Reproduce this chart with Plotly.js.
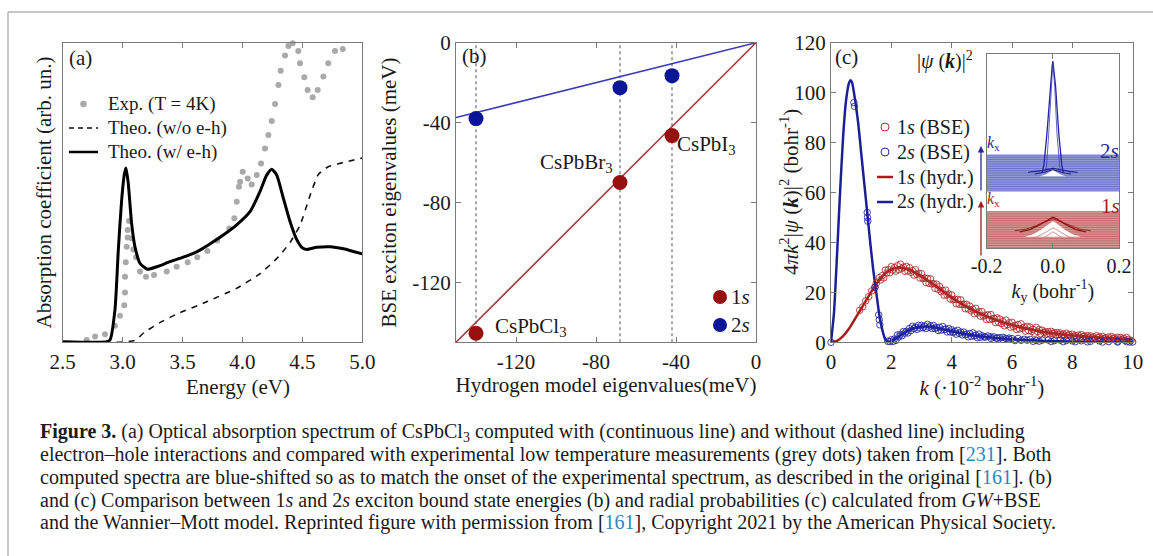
<!DOCTYPE html>
<html><head><meta charset="utf-8">
<script src="https://cdn.plot.ly/plotly-3.0.1.min.js"></script>
<style>html,body{margin:0;padding:0;background:#fff;}#plot{width:1153px;height:556px;}</style>
</head><body><div id="plot"></div>
<script>
// ---------- Panel (a): absorption ----------
const energyTicks = [2.5, 3.0, 3.5, 4.0, 4.5, 5.0];
const energyTickText = ['2.5', '3.0', '3.5', '4.0', '4.5', '5.0'];
const expE = [2.70, 2.77, 2.853, 2.936, 2.978, 3.014, 3.020, 3.020, 3.026, 3.034, 3.042, 3.042, 3.053, 3.075, 3.089, 3.112, 3.145, 3.195, 3.262, 3.368, 3.451, 3.543, 3.623, 3.707, 3.79, 3.89, 3.932, 3.952, 3.971, 3.980, 4.002, 4.044, 4.077, 4.119, 4.155, 4.188, 4.216, 4.244, 4.272, 4.300, 4.319, 4.355, 4.383, 4.419, 4.466, 4.480, 4.516, 4.544, 4.586, 4.628, 4.675, 4.716, 4.772, 4.837, 4.884];
const expA = [0.008, 0.019, 0.027, 0.055, 0.089, 0.124, 0.166, 0.219, 0.267, 0.319, 0.350, 0.375, 0.405, 0.347, 0.310, 0.284, 0.236, 0.219, 0.225, 0.236, 0.252, 0.267, 0.284, 0.305, 0.34, 0.380, 0.414, 0.469, 0.519, 0.536, 0.569, 0.547, 0.527, 0.558, 0.597, 0.647, 0.692, 0.739, 0.795, 0.859, 0.906, 0.957, 0.989, 0.998, 0.972, 0.931, 0.885, 0.842, 0.818, 0.842, 0.887, 0.931, 0.972, 0.979, 1.003];
const noEhE = [2.95, 3.1, 3.187, 3.326, 3.451, 3.70, 3.95, 4.15, 4.30, 4.40, 4.48, 4.564, 4.633, 4.716, 4.87, 5.0];
const noEhA = [0.0, 0.006, 0.035, 0.069, 0.094, 0.135, 0.18, 0.23, 0.285, 0.335, 0.39, 0.49, 0.56, 0.586, 0.603, 0.615];
const withEhE = [2.5, 2.87, 2.895, 2.936, 2.964, 2.992, 3.014, 3.028, 3.047, 3.075, 3.103, 3.145, 3.206, 3.284, 3.395, 3.507, 3.618, 3.715, 3.840, 3.952, 4.063, 4.146, 4.202, 4.244, 4.286, 4.341, 4.397, 4.45, 4.50, 4.536, 4.619, 4.731, 4.842, 5.0];
const withEhA = [0.002, 0.002, 0.008, 0.108, 0.308, 0.475, 0.560, 0.582, 0.531, 0.397, 0.319, 0.264, 0.244, 0.252, 0.269, 0.284, 0.302, 0.325, 0.358, 0.392, 0.436, 0.503, 0.558, 0.578, 0.558, 0.481, 0.403, 0.345, 0.315, 0.310, 0.317, 0.319, 0.312, 0.295];

// ---------- Panel (b): eigenvalues ----------
const meVTicks = [-120, -80, -40, 0];
const meVTickText = ['-120', '-80', '-40', '0'];
const materials = ['CsPbCl<sub>3</sub>', 'CsPbBr<sub>3</sub>', 'CsPbI<sub>3</sub>'];
const hydrogenE = [-140, -68, -42];
const bse1s = [-145.5, -70, -46.5];
const bse2s = [-38, -22.5, -16.5];
const fitX = [-150, 0];
const fit1s = [-150, 0];
const fit2s = [-37.5, 0];

// ---------- Panel (c): radial probabilities ----------
const kTicks = [0, 2, 4, 6, 8, 10];
const probTicks = [0, 20, 40, 60, 80, 100, 120];
const hyd1sK = [0, 0.2, 0.4, 0.6, 0.8, 1.0, 1.2, 1.4, 1.6, 1.8, 2.0, 2.2, 2.4, 2.6, 2.8, 3.0, 3.2, 3.4, 3.6, 3.8, 4.0, 4.5, 5.0, 5.5, 6.0, 6.5, 7.0, 7.5, 8.0, 8.5, 9.0, 9.5, 10];
const hyd1sV = [0, 0.6, 2.5, 5.5, 9.5, 13.5, 17.5, 21.5, 25, 27.6, 29.2, 29.9, 29.7, 29.0, 27.8, 26.4, 24.8, 23.1, 21.4, 19.6, 17.9, 14.2, 11.2, 8.8, 6.9, 5.4, 4.3, 3.4, 2.7, 2.2, 1.8, 1.5, 1.2];
const hyd2sK = [0, 0.1, 0.2, 0.3, 0.4, 0.5, 0.6, 0.65, 0.7, 0.8, 0.9, 1.0, 1.1, 1.2, 1.3, 1.4, 1.5, 1.6, 1.7, 1.8, 1.9, 2.0, 2.2, 2.4, 2.6, 2.8, 3.0, 3.2, 3.4, 3.6, 3.8, 4.0, 4.5, 5.0, 5.5, 6.0, 7.0, 8.0, 9.0, 10];
const hyd2sV = [0, 12, 35, 60, 82, 97, 104, 105, 104, 97, 88, 76, 64, 52, 40, 29, 20, 11, 5, 1.2, 0.1, 0.4, 2.0, 3.6, 5.0, 5.8, 6.2, 6.3, 6.0, 5.5, 5.0, 4.4, 3.2, 2.3, 1.7, 1.2, 0.6, 0.35, 0.2, 0.1];
const bse1sK = [0.95, 1.05, 1.15, 1.25, 1.35, 1.45, 1.5,
 1.6, 1.7, 1.8, 1.9, 2.0, 2.1, 2.2, 2.3, 2.4, 2.5, 2.6, 2.7, 2.8, 2.9, 3.0, 3.1, 3.2, 3.3, 3.4, 3.5, 3.6, 3.7, 3.8, 3.9, 4.0, 4.1, 4.2, 4.3, 4.4, 4.5, 4.6, 4.7, 4.8, 4.9, 5.0, 5.1, 5.2, 5.3, 5.4, 5.5, 5.6, 5.7, 5.8, 5.9, 6.0, 6.1, 6.2, 6.3, 6.4, 6.5, 6.6, 6.7, 6.8, 6.9, 7.0, 7.1, 7.2, 7.3, 7.4, 7.5, 7.6, 7.7, 7.8, 7.9, 8.0, 8.1, 8.2, 8.3, 8.4, 8.5, 8.6, 8.7, 8.8, 8.9, 9.0, 9.1, 9.2, 9.3, 9.4, 9.5, 9.6, 9.7, 9.8,
 1.65, 1.75, 1.85, 1.95, 2.05, 2.15, 2.25, 2.35, 2.45, 2.55, 2.65, 2.75, 2.85, 2.95, 3.05, 3.15, 3.25, 3.35, 3.45, 3.55, 3.65, 3.75, 3.85, 3.95, 4.05, 4.15, 4.25, 4.35, 4.45, 4.55, 4.65, 4.75, 4.85, 4.95, 5.05, 5.15, 5.25, 5.35, 5.45, 5.55, 5.65, 5.75, 5.85, 5.95, 6.05, 6.15, 6.25, 6.35, 6.45, 6.55, 6.65, 6.75, 6.85, 6.95, 7.05, 7.15, 7.25, 7.35, 7.45, 7.55, 7.65, 7.75, 7.85, 7.95, 8.05, 8.15, 8.25, 8.35, 8.45, 8.55, 8.65, 8.75, 8.85, 8.95, 9.05, 9.15, 9.25, 9.35, 9.45, 9.55, 9.65, 9.75, 9.85, 9.95];
const bse1sV = [12.8, 14.2, 16.6, 18.3, 20.6, 22.1, 23.6,
 25.9, 26.7, 28.9, 29.1, 30.3, 29.9, 30.7, 31.3, 30.1, 30.4, 29.9, 28.7, 29.1, 27.7, 27.5, 25.8, 25.6, 25.4, 23.5, 23.3, 22.3, 20.8, 20.9, 19.4, 19.0, 17.3, 17.2, 17.0, 15.3, 15.2, 14.5, 13.2, 13.6, 12.3, 12.3, 10.9, 11.0, 11.1, 9.6, 9.8, 9.3, 8.3, 8.9, 7.8, 8.0, 6.8, 7.1, 7.4, 6.1, 6.4, 6.1, 5.2, 6.0, 5.1, 4.85, 4.2, 4.3, 4.4, 3.8, 3.9, 3.75, 3.25, 3.65, 3.1, 3.25, 2.7, 2.9, 3.1, 2.5, 2.7, 2.55, 2.15, 2.65, 2.2, 2.35, 1.8, 2.1, 2.3, 1.8, 2.0, 1.95, 1.55, 1.95,
 25.0, 25.8, 27.75, 27.85, 28.95, 28.5, 29.1, 29.6, 28.45, 28.6, 28.0, 26.9, 27.15, 25.75, 25.5, 23.9, 23.6, 23.35, 21.6, 21.25, 20.25, 18.85, 18.9, 17.35, 17.0, 15.45, 15.2, 15.05, 13.45, 13.3, 12.55, 11.4, 11.7, 10.45, 10.45, 9.15, 9.15, 9.25, 7.9, 8.0, 7.5, 6.6, 7.1, 6.05, 6.25, 5.15, 5.35, 5.65, 4.45, 4.7, 4.35, 3.6, 4.3, 3.4, 3.95, 3.35, 3.4, 3.55, 2.95, 3.05, 2.85, 2.45, 2.75, 2.25, 2.4, 1.9, 2.05, 2.25, 1.7, 1.85, 1.7, 1.4, 1.8, 1.35, 1.5, 1.05, 1.25, 1.5, 1.0, 1.2, 1.1, 0.75, 1.15, 0.8];
const bse2sK = [0.0, 0.76, 0.78, 1.2, 1.21, 1.22, 1.46, 1.58, 1.6, 1.62, 1.88, 1.95,
 2.0, 2.1, 2.2, 2.3, 2.4, 2.5, 2.6, 2.7, 2.8, 2.9, 3.0, 3.1, 3.2, 3.3, 3.4, 3.5, 3.6, 3.7, 3.8, 3.9, 4.0, 4.1, 4.2, 4.3, 4.4, 4.5, 4.6, 4.7, 4.8, 4.9, 5.0, 5.1, 5.2, 5.3, 5.4, 5.5, 5.6, 5.7, 5.8, 5.9, 6.0, 6.2, 6.4, 6.6, 6.8, 7.0, 7.2, 7.4, 7.6, 7.8, 8.0, 8.3, 8.6, 8.9, 9.2, 9.5, 9.8, 10.0,
 2.05, 2.15, 2.25, 2.35, 2.45, 2.55, 2.65, 2.75, 2.85, 2.95, 3.05, 3.15, 3.25, 3.35, 3.45, 3.55, 3.65, 3.75, 3.85, 3.95, 4.05, 4.15, 4.25, 4.35, 4.45, 4.55, 4.65, 4.75, 4.85, 4.95, 5.1, 5.3, 5.5, 5.7, 5.9, 6.1, 6.3, 6.5, 6.7, 6.9, 7.3, 7.7, 8.1, 8.5, 9.0, 9.5, 9.9];
const bse2sV = [0, 96, 94.5, 52, 50, 48.5, 22, 11, 9, 7, 0.4, 0.3,
 1.0, 1.3, 2.9, 3.2, 4.3, 4.4, 5.5, 6.4, 6.1, 6.8, 6.8, 6.5, 7.2, 6.6, 6.7, 5.9, 6.0, 6.3, 5.3, 5.5, 5.0, 4.4, 4.8, 4.1, 4.1, 3.3, 3.5, 3.8, 2.9, 3.3, 2.6, 2.3, 2.55, 2.15, 2.15, 1.75, 1.85, 2.0, 1.55, 1.7, 1.5, 1.55, 1.2, 1.15, 0.75, 0.85, 0.9, 0.65, 0.85, 0.7, 0.55, 0.6, 0.37, 0.52, 0.28, 0.4, 0.22, 0.1,
 0.35, 0.75, 2.2, 2.6, 3.65, 3.75, 4.7, 5.5, 5.2, 5.7, 5.85, 5.5, 6.05, 5.5, 5.6, 4.75, 4.9, 5.05, 4.15, 4.15, 3.9, 3.25, 3.6, 2.95, 3.0, 2.2, 2.4, 2.6, 1.85, 2.0, 2.0, 1.55, 1.6, 1.15, 1.15, 0.7, 0.8, 0.85, 0.4, 0.45, 0.32, 0.27, 0.24, 0.18, 0.1, 0.1, 0.1];

// ---------- Inset |psi(k)|^2 ----------
const kyTicks = [-0.2, 0.0, 0.2];
const kyTickText = ['-0.2', '0.0', '0.2'];
const insetBand2s = [0.295, 0.481];
const insetBand1s = [0.003, 0.189];
const insetKy = [-0.1, -0.07, -0.045, -0.025, -0.01, 0, 0.01, 0.025, 0.045, 0.07, 0.1];
const humpProfile = [0, 0.15, 0.42, 0.7, 0.9, 1, 0.9, 0.7, 0.42, 0.15, 0];
const peak2sKy = [-0.032, -0.027, -0.018, -0.008, -0.002, 0, 0.002, 0.008, 0.018, 0.027, 0.032];
const peak2sZ = [0.0, 0.04, 0.2, 0.45, 0.55, 0.575, 0.55, 0.45, 0.2, 0.04, 0.0];

// ---------- helpers ----------
const W = 1153, H = 556;
const F = 'Liberation Serif, Times New Roman, Times, serif';
const px = x => x / W;
const py = y => 1 - y / H;
const RED = 'rgb(165,30,30)', BLUE = 'rgb(28,32,150)';
const INK = '#1a1a1a';

function axisBase(extra) {
  return Object.assign({
    showline: true, linecolor: '#7a7a7a', linewidth: 1, mirror: 'ticks',
    ticks: 'inside', ticklen: 5, tickcolor: '#7a7a7a', tickwidth: 1,
    showgrid: false, zeroline: false, fixedrange: true,
    tickfont: {family: F, size: 21, color: INK}
  }, extra);
}

const traces = [];
// (a)
traces.push({x: expE, y: expA, xaxis: 'x', yaxis: 'y', mode: 'markers', cliponaxis: false,
  marker: {color: '#a9a9a9', size: 6}, hoverinfo: 'skip'});
traces.push({x: noEhE, y: noEhA, xaxis: 'x', yaxis: 'y', mode: 'lines',
  line: {color: '#111', width: 1.6, dash: '6px,6px', shape: 'spline', smoothing: 0.5}});
traces.push({x: withEhE, y: withEhA, xaxis: 'x', yaxis: 'y', mode: 'lines',
  line: {color: '#000', width: 3, shape: 'spline', smoothing: 0.6}});
// (b)
traces.push({x: fitX, y: fit2s, xaxis: 'x2', yaxis: 'y2', mode: 'lines', line: {color: 'rgb(60,62,185)', width: 1.5}});
traces.push({x: fitX, y: fit1s, xaxis: 'x2', yaxis: 'y2', mode: 'lines', line: {color: 'rgb(165,50,50)', width: 1.5}});
traces.push({x: hydrogenE, y: bse1s, xaxis: 'x2', yaxis: 'y2', mode: 'markers', cliponaxis: false,
  marker: {color: 'rgb(150,16,16)', size: 15}});
traces.push({x: hydrogenE, y: bse2s, xaxis: 'x2', yaxis: 'y2', mode: 'markers', cliponaxis: false,
  marker: {color: 'rgb(10,22,150)', size: 15}});
// (c)
traces.push({x: hyd1sK, y: hyd1sV, xaxis: 'x3', yaxis: 'y3', mode: 'lines',
  line: {color: RED, width: 2.5, shape: 'spline', smoothing: 0.6}});
traces.push({x: hyd2sK, y: hyd2sV, xaxis: 'x3', yaxis: 'y3', mode: 'lines',
  line: {color: BLUE, width: 2.5, shape: 'spline', smoothing: 0.5}});
traces.push({x: bse1sK, y: bse1sV, xaxis: 'x3', yaxis: 'y3', mode: 'markers', cliponaxis: false,
  marker: {symbol: 'circle-open', size: 6.5, color: 'rgba(170,40,40,0.85)', line: {width: 1}}});
traces.push({x: bse2sK, y: bse2sV, xaxis: 'x3', yaxis: 'y3', mode: 'markers', cliponaxis: false,
  marker: {symbol: 'circle-open', size: 6.5, color: 'rgba(30,35,160,0.85)', line: {width: 1}}});

// inset
function band(b, fill, stripe, n) {
  const lo = b[0], hi = b[1];
  traces.push({x: [kyTicks[0], kyTicks[2], kyTicks[2], kyTicks[0], kyTicks[0]], y: [lo, lo, hi, hi, lo],
    xaxis: 'x4', yaxis: 'y4', mode: 'lines', fill: 'toself', fillcolor: fill, line: {width: 0}, hoverinfo: 'skip'});
  const sx = [], sy = [];
  for (let i = 0; i <= n; i++) { const yy = lo + (hi - lo) * i / n; sx.push(kyTicks[0], kyTicks[2], null); sy.push(yy, yy, null); }
  traces.push({x: sx, y: sy, xaxis: 'x4', yaxis: 'y4', mode: 'lines', line: {color: stripe, width: 0.8}, hoverinfo: 'skip'});
}
function hump(scaleX, base, h, opts) {
  const t = {x: insetKy.map(k => k * scaleX), y: humpProfile.map(p => base + h * p), xaxis: 'x4', yaxis: 'y4',
    mode: 'lines', hoverinfo: 'skip'};
  traces.push(Object.assign(t, opts));
}
band(insetBand2s, 'rgb(146,152,216)', 'rgb(100,108,198)', 16);
band(insetBand1s, 'rgb(218,150,150)', 'rgb(190,90,90)', 16);
hump(0.75, 0.392, 0.02, {line: {color: 'rgb(30,30,140)', width: 1.2}});
hump(0.55, 0.383, 0.022, {line: {color: 'rgb(30,30,140)', width: 1}});
hump(0.4, 0.372, 0.03, {line: {color: 'white', width: 0}, fill: 'toself', fillcolor: 'white'});
traces.push({x: peak2sKy, y: peak2sZ.map(z => 0.39 + z), xaxis: 'x4', yaxis: 'y4', mode: 'lines',
  line: {color: 'rgb(35,35,165)', width: 1.3}, hoverinfo: 'skip'});
traces.push({x: peak2sKy.map(k => k * 0.7), y: peak2sZ.map(z => 0.39 + z * 0.985), xaxis: 'x4', yaxis: 'y4', mode: 'lines',
  line: {color: 'rgb(60,60,180)', width: 0.8}, hoverinfo: 'skip'});
hump(1.15, 0.09, 0.062, {line: {color: 'rgb(160,40,40)', width: 1}});
hump(1.0, 0.085, 0.075, {line: {color: 'rgb(145,20,20)', width: 1.4}});
hump(0.85, 0.06, 0.08, {line: {color: 'white', width: 0}, fill: 'toself', fillcolor: 'white'});
hump(0.7, 0.05, 0.055, {line: {color: 'rgb(200,120,120)', width: 0.8}});
hump(0.55, 0.035, 0.05, {line: {color: 'rgb(200,120,120)', width: 0.8}});

// ---------- annotations ----------
const ann = [];
function txt(x, y, text, o) {
  ann.push(Object.assign({xref: 'paper', yref: 'paper', x: px(x), y: py(y), text: text, showarrow: false,
    xanchor: 'left', yanchor: 'middle', font: {family: F, size: 21, color: INK}}, o || {}));
}
txt(80, 58, '(a)', {xanchor: 'center'});
txt(474, 56, '(b)', {xanchor: 'center'});
txt(846, 57, '(c)', {xanchor: 'center'});
const fa = {family: F, size: 19, color: INK};
txt(106, 104, 'Exp. (T = 4K)', {font: fa});
txt(106, 128, 'Theo. (w/o e-h)', {font: fa});
txt(106, 152, 'Theo. (w/ e-h)', {font: fa});
// (a) x-axis title (drawn right of centre, as in the original)
txt(238, 387, 'Energy (eV)', {xanchor: 'center'});
const matShift = [[17, 6, 'left'], [-5, 20, 'right'], [3, -9, 'left']];
materials.forEach((m, i) => {
  ann.push({xref: 'x2', yref: 'y2', x: hydrogenE[i], y: bse1s[i], text: m, showarrow: false,
    xanchor: matShift[i][2], yanchor: 'middle', xshift: matShift[i][0], yshift: matShift[i][1],
    font: {family: F, size: 21, color: INK}});
});
txt(729, 297, '1<i>s</i>');
txt(729, 325, '2<i>s</i>');
const lf = {family: F, size: 20, color: INK};
txt(895, 127, '1<i>s</i> (BSE)', {font: lf});
txt(895, 152, '2<i>s</i> (BSE)', {font: lf});
txt(895, 177, '1<i>s</i> (hydr.)', {font: lf});
txt(895, 202, '2<i>s</i> (hydr.)', {font: lf});
txt(975, 60, '|<i>ψ</i> (<b><i>k</i></b>)|<sup>2</sup>', {xanchor: 'right', font: {family: F, size: 20, color: INK}});
txt(1098, 151, '2<i>s</i>', {font: {family: F, size: 21, color: 'rgb(40,40,160)'}});
txt(1099, 206, '1<i>s</i>', {font: {family: F, size: 21, color: 'rgb(165,30,30)'}});
txt(985, 144, '<i>k</i><sub>x</sub>', {font: {family: F, size: 16, color: 'rgb(40,40,160)'}});
txt(985, 199, '<i>k</i><sub>x</sub>', {font: {family: F, size: 16, color: 'rgb(165,30,30)'}});
txt(789, 192, '4<i>πk</i><sup>2</sup>|<i>ψ</i> (<b><i>k</i></b>)|<sup>2</sup> (bohr<sup>-1</sup>)', {xanchor: 'center', textangle: -90});
ann.push({xref: 'paper', yref: 'paper', x: px(981), y: py(146), ax: 0, ay: 47, axref: 'pixel', ayref: 'pixel',
  showarrow: true, arrowhead: 2, arrowsize: 1, arrowwidth: 1.3, arrowcolor: 'rgb(40,40,160)', text: ' ',
  font: {family: F, size: 2, color: INK}});
ann.push({xref: 'paper', yref: 'paper', x: px(981), y: py(201), ax: 0, ay: 57, axref: 'pixel', ayref: 'pixel',
  showarrow: true, arrowhead: 2, arrowsize: 1, arrowwidth: 1.3, arrowcolor: 'rgb(165,30,30)', text: ' ',
  font: {family: F, size: 2, color: INK}});

// caption
const REF = s => '[<span style="color:#2e86c1">' + s + '</span>]';
const caption = [
  '<b>Figure 3.</b> (a) Optical absorption spectrum of CsPbCl<sub>3</sub> computed with (continuous line) and without (dashed line) including',
  'electron–hole interactions and compared with experimental low temperature measurements (grey dots) taken from ' + REF('231') + '. Both',
  'computed spectra are blue-shifted so as to match the onset of the experimental spectrum, as described in the original ' + REF('161') + '. (b)',
  'and (c) Comparison between 1<i>s</i> and 2<i>s</i> exciton bound state energies (b) and radial probabilities (c) calculated from <i>GW</i>+BSE',
  'and the Wannier–Mott model. Reprinted figure with permission from ' + REF('161') + ', Copyright 2021 by the American Physical Society.'
];
const capY = [432, 454.5, 477, 500, 522.5];
caption.forEach((c, i) => txt(38, capY[i], c, {font: {family: F, size: 20, color: INK}}));

// ---------- shapes ----------
const shapes = [];
function pline(x0, y0, x1, y1, color, width, dash) {
  shapes.push({type: 'line', xref: 'paper', yref: 'paper', x0: px(x0), y0: py(y0), x1: px(x1), y1: py(y1),
    line: {color: color, width: width, dash: dash || 'solid'}});
}
function pcircle(cx, cy, r, fill, lineColor, lw) {
  shapes.push({type: 'circle', xref: 'paper', yref: 'paper', x0: px(cx - r), x1: px(cx + r), y0: py(cy + r), y1: py(cy - r),
    fillcolor: fill, line: {color: lineColor, width: lw}});
}
pline(8, 12, 1153, 12, '#b4b4b4', 1.5);
pline(8, 12, 8, 556, '#b4b4b4', 1.5);
pcircle(83.5, 104, 3.3, '#a9a9a9', '#a9a9a9', 0);
pline(69, 128, 98, 128, '#111', 1.6, '5px,4px');
pline(69, 152, 98, 152, '#000', 2.5);
pcircle(720, 297, 7, 'rgb(150,16,16)', 'rgb(150,16,16)', 0);
pcircle(720, 325, 7, 'rgb(10,22,150)', 'rgb(10,22,150)', 0);
pcircle(885, 127, 4, 'rgba(0,0,0,0)', 'rgb(175,45,45)', 1);
pcircle(885, 152, 4, 'rgba(0,0,0,0)', 'rgb(35,40,165)', 1);
pline(877, 177, 893, 177, RED, 2.5);
pline(877, 202, 893, 202, BLUE, 2.5);
hydrogenE.forEach(h => shapes.push({type: 'line', xref: 'x2', yref: 'y2 domain', x0: h, x1: h, y0: 0, y1: 1,
  layer: 'below', line: {color: '#6e6e6e', width: 1.2, dash: 'dot'}}));

const yDom = [py(342.3), py(42.7)];
const tf = {family: F, size: 21, color: INK};
const layout = {
  width: W, height: H, margin: {l: 0, r: 0, t: 0, b: 0},
  paper_bgcolor: '#fff', plot_bgcolor: 'rgba(0,0,0,0)', showlegend: false,
  font: {family: F, size: 21, color: INK},
  xaxis: axisBase({domain: [px(62.7), px(362.3)], range: [2.5, 5.0], tickvals: energyTicks, ticktext: energyTickText, anchor: 'y'}),
  yaxis: axisBase({domain: yDom, range: [0, 1], ticks: '', showticklabels: false, mirror: true, anchor: 'x',
    title: {text: 'Absorption coefficient (arb. un.)', font: tf, standoff: 4}}),
  xaxis2: axisBase({domain: [px(456), px(756)], range: [-150, 0], tickvals: meVTicks, ticktext: meVTickText, anchor: 'y2',
    title: {text: 'Hydrogen model eigenvalues(meV)', font: tf, standoff: 4}}),
  yaxis2: axisBase({domain: yDom, range: [-150, 0], tickvals: meVTicks, ticktext: meVTickText, anchor: 'x2',
    title: {text: 'BSE exciton eigenvalues (meV)', font: tf, standoff: 9}}),
  xaxis3: axisBase({domain: [px(831), px(1132.7)], range: [0, 10], tickvals: kTicks, anchor: 'y3',
    title: {text: '<i>k</i> (·10<sup>-2</sup> bohr<sup>-1</sup>)', font: tf, standoff: 4}}),
  yaxis3: axisBase({domain: yDom, range: [0, 120], tickvals: probTicks, anchor: 'x3'}),
  xaxis4: axisBase({domain: [px(986.7), px(1119)], range: [-0.2, 0.2], tickvals: kyTicks, ticktext: kyTickText, anchor: 'y4',
    tickfont: {family: F, size: 20, color: INK},
    title: {text: '<i>k</i><sub>y</sub> (bohr<sup>-1</sup>)', font: {family: F, size: 20, color: INK}, standoff: 2}}),
  yaxis4: axisBase({domain: [py(248.3), py(54.3)], range: [0, 1], ticks: '', showticklabels: false, mirror: true, anchor: 'x4'}),
  annotations: ann, shapes: shapes
};
Plotly.newPlot('plot', traces, layout, {staticPlot: true, displayModeBar: false});
</script></body></html>
